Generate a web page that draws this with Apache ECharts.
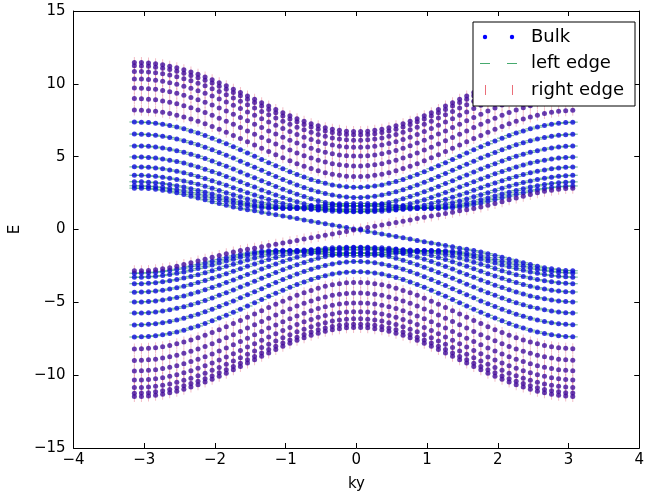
<!DOCTYPE html>
<html>
<head>
<meta charset="utf-8">
<script src="https://cdn.jsdelivr.net/npm/echarts@6/dist/echarts.min.js"></script>
<style>
  html, body { margin: 0; padding: 0; background: #ffffff; }
  #chart { width: 647px; height: 497px; }
</style>
</head>
<body>
<div id="chart"></div>
<script>
// ky sample points across the Brillouin zone
const kyValues = [-3.14,-3.04,-2.94,-2.84,-2.74,-2.64,-2.54,-2.44,-2.34,-2.24,-2.14,-2.04,-1.94,-1.84,-1.74,-1.64,-1.54,-1.44,-1.34,-1.24,-1.14,-1.04,-0.94,-0.84,-0.74,-0.64,-0.54,-0.44,-0.34,-0.24,-0.14,-0.04,
  0.06,0.16,0.26,0.36,0.46,0.56,0.66,0.76,0.86,0.96,1.06,1.16,1.26,1.36,1.46,1.56,1.66,1.76,1.86,1.96,2.06,2.16,2.26,2.36,2.46,2.56,2.66,2.76,2.86,2.96,3.06];

// Positive energies of each level, listed for |ky| = 0.05, 0.15, ... , pi.
// The spectrum is symmetric in ky and in E, so each list also gives -E and -ky.
const edgeBand = [0.04,0.13,0.22,0.31,0.40,0.48,0.57,0.66,0.75,0.84,0.92,1.01,1.10,1.19,1.28,1.36,1.45,1.55,1.66,1.78,1.91,2.04,2.17,2.29,2.41,2.52,2.62,2.70,2.76,2.81,2.83,2.84];
const level01 = [1.79,1.78,1.76,1.73,1.69,1.65,1.60,1.55,1.51,1.47,1.45,1.45,1.46,1.50,1.55,1.63,1.72,1.82,1.94,2.06,2.18,2.30,2.42,2.53,2.64,2.73,2.81,2.88,2.93,2.97,2.99,3.00];
const level02 = [1.62,1.62,1.60,1.58,1.55,1.52,1.49,1.47,1.45,1.45,1.46,1.49,1.54,1.61,1.69,1.80,1.91,2.04,2.16,2.30,2.43,2.56,2.68,2.80,2.91,3.00,3.09,3.16,3.21,3.25,3.27,3.28];
const level03 = [1.40,1.39,1.39,1.38,1.38,1.38,1.39,1.41,1.44,1.48,1.55,1.63,1.73,1.84,1.96,2.10,2.24,2.39,2.53,2.68,2.83,2.97,3.10,3.22,3.33,3.44,3.52,3.59,3.65,3.69,3.72,3.72];
const level04 = [1.21,1.22,1.23,1.26,1.29,1.34,1.40,1.47,1.56,1.67,1.79,1.92,2.06,2.21,2.37,2.53,2.70,2.87,3.03,3.19,3.35,3.50,3.64,3.77,3.89,4.00,4.09,4.17,4.23,4.27,4.29,4.30];
const level05 = [1.25,1.27,1.31,1.37,1.44,1.53,1.64,1.76,1.90,2.04,2.20,2.37,2.54,2.72,2.91,3.09,3.28,3.46,3.64,3.82,3.98,4.14,4.29,4.43,4.56,4.67,4.76,4.84,4.90,4.95,4.97,4.98];
const level06 = [1.61,1.64,1.69,1.76,1.86,1.98,2.11,2.26,2.42,2.59,2.77,2.96,3.15,3.35,3.55,3.75,3.95,4.15,4.34,4.52,4.70,4.87,5.03,5.17,5.30,5.41,5.51,5.60,5.66,5.71,5.73,5.74];
const level07 = [2.20,2.23,2.28,2.36,2.47,2.59,2.73,2.89,3.06,3.25,3.44,3.64,3.85,4.06,4.27,4.48,4.69,4.90,5.10,5.29,5.47,5.65,5.81,5.96,6.09,6.21,6.32,6.40,6.47,6.51,6.54,6.55];
const level08 = [2.90,2.93,2.98,3.06,3.17,3.29,3.44,3.60,3.78,3.97,4.17,4.38,4.59,4.81,5.03,5.25,5.47,5.68,5.89,6.08,6.27,6.45,6.62,6.77,6.91,7.03,7.14,7.23,7.29,7.34,7.37,7.38];
const level09 = [3.63,3.66,3.72,3.80,3.90,4.03,4.18,4.34,4.52,4.72,4.92,5.13,5.35,5.57,5.80,6.02,6.25,6.46,6.67,6.88,7.07,7.26,7.43,7.58,7.73,7.85,7.96,8.05,8.12,8.16,8.19,8.20];
const level10 = [4.36,4.39,4.44,4.52,4.63,4.76,4.90,5.07,5.25,5.45,5.65,5.87,6.09,6.32,6.54,6.77,7.00,7.22,7.43,7.64,7.84,8.03,8.20,8.36,8.50,8.63,8.74,8.83,8.90,8.95,8.98,8.99];
const level11 = [5.04,5.07,5.12,5.20,5.30,5.43,5.58,5.75,5.93,6.13,6.33,6.55,6.77,7.00,7.23,7.46,7.69,7.92,8.13,8.34,8.55,8.73,8.91,9.07,9.22,9.35,9.46,9.55,9.62,9.67,9.70,9.71];
const level12 = [5.64,5.67,5.72,5.80,5.90,6.03,6.18,6.34,6.53,6.72,6.93,7.15,7.38,7.61,7.84,8.07,8.30,8.53,8.75,8.96,9.16,9.35,9.53,9.70,9.84,9.97,10.08,10.18,10.25,10.30,10.33,10.34];
const level13 = [6.13,6.16,6.21,6.29,6.40,6.52,6.67,6.84,7.02,7.22,7.43,7.65,7.87,8.10,8.34,8.57,8.80,9.03,9.25,9.47,9.67,9.86,10.04,10.21,10.35,10.48,10.60,10.69,10.76,10.81,10.84,10.85];
const level14 = [6.50,6.53,6.58,6.66,6.76,6.89,7.04,7.20,7.39,7.59,7.80,8.01,8.24,8.47,8.71,8.94,9.18,9.40,9.63,9.84,10.05,10.24,10.42,10.58,10.73,10.87,10.98,11.07,11.14,11.20,11.23,11.24];
const level15 = [6.73,6.75,6.81,6.89,6.99,7.12,7.26,7.43,7.61,7.81,8.02,8.24,8.47,8.70,8.94,9.17,9.40,9.63,9.86,10.07,10.28,10.47,10.65,10.82,10.97,11.10,11.21,11.31,11.38,11.43,11.46,11.47];

// levels next to the gap carry the left-edge mark, the outer ones the right-edge mark
const innerLevels = [level01, level02, level03, level04, level05, level06, level07, level08];
const outerLevels = [level09, level10, level11, level12, level13, level14, level15];

const xTickValues = [-4, -3, -2, -1, 0, 1, 2, 3, 4];
const yTickValues = [-15, -10, -5, 0, 5, 10, 15];

const BLUE_DOT = '#0a0ad8';
const PURPLE_DOT = '#420e9c';
const GREEN_MARK = 'rgba(40,150,90,0.75)';
const RED_MARK = 'rgba(225,90,115,0.5)';
const FONT = 'DejaVu Sans';

const bulkPts = [];
const leftPts = [];
const rightPts = [];

// column i of kyValues -> index in the |ky| lists
function levelIndex(i) { return i <= 31 ? 31 - i : i - 32; }

function pushPoint(k, v, tag) {
  bulkPts.push({ value: [k, v], itemStyle: { color: tag === 'left' ? BLUE_DOT : PURPLE_DOT } });
  (tag === 'left' ? leftPts : rightPts).push([k, v]);
}

function addLevel(level, tag) {
  kyValues.forEach((k, i) => {
    const e = level[levelIndex(i)];
    pushPoint(k, e, tag);
    pushPoint(k, -e, tag);
  });
}

innerLevels.forEach(l => addLevel(l, 'left'));
outerLevels.forEach(l => addLevel(l, 'right'));

// in-gap edge branches: E>0 for ky<0 sits on the left edge, E>0 for ky>0 on the right edge
kyValues.forEach((k, i) => {
  const e = edgeBand[levelIndex(i)];
  pushPoint(k, e, i <= 31 ? 'left' : 'right');
  pushPoint(k, -e, i <= 31 ? 'right' : 'left');
});

function fmt(v) { return v < 0 ? '\u2212' + Math.abs(v) : String(v); }

const axisCommon = {
  axisLine: { show: true, onZero: false, lineStyle: { color: '#000', width: 1 } },
  axisTick: { show: true, inside: true, length: 5, lineStyle: { color: '#000', width: 1 } },
  splitLine: { show: false }
};

const chart = echarts.init(document.getElementById('chart'), null, { renderer: 'canvas' });

const legendFont = '18px "DejaVu Sans"';
const L = { z: 100, zlevel: 1 };

chart.setOption({
  animation: false,
  backgroundColor: '#ffffff',
  grid: { left: 68, right: 4, top: 11, bottom: 43, containLabel: false },
  xAxis: [
    Object.assign({
      type: 'value', min: xTickValues[0], max: xTickValues[xTickValues.length - 1], interval: 1,
      name: 'ky', nameLocation: 'middle', nameGap: 29,
      nameTextStyle: { fontFamily: FONT, fontSize: 15, color: '#000' },
      axisLabel: { show: true, margin: 5, fontFamily: FONT, fontSize: 15, color: '#000', formatter: fmt }
    }, axisCommon),
    Object.assign({
      type: 'value', position: 'top', min: -4, max: 4, interval: 1,
      axisLabel: { show: false }
    }, axisCommon)
  ],
  yAxis: [
    Object.assign({
      type: 'value', min: yTickValues[0], max: yTickValues[yTickValues.length - 1], interval: 5,
      name: 'E', nameLocation: 'middle', nameGap: 47,
      nameTextStyle: { fontFamily: FONT, fontSize: 15, color: '#000' },
      axisLabel: { show: true, margin: 8, fontFamily: FONT, fontSize: 15, color: '#000', formatter: fmt }
    }, axisCommon),
    Object.assign({
      type: 'value', position: 'right', min: -15, max: 15, interval: 5,
      axisLabel: { show: false }
    }, axisCommon)
  ],
  series: [
    {
      name: 'left edge', type: 'scatter', data: leftPts, z: 2, progressive: 0,
      symbol: 'rect', symbolSize: [10, 1.2],
      itemStyle: { color: GREEN_MARK }
    },
    {
      name: 'right edge', type: 'scatter', data: rightPts, z: 2, progressive: 0,
      symbol: 'rect', symbolSize: [1, 11],
      itemStyle: { color: RED_MARK }
    },
    {
      name: 'Bulk', type: 'scatter', data: bulkPts, z: 3, progressive: 0,
      symbol: 'circle', symbolSize: 5,
      itemStyle: { color: BLUE_DOT }
    }
  ],
  graphic: {
    elements: [
      Object.assign({ type: 'rect', shape: { x: 473, y: 22, width: 162, height: 84 },
        style: { fill: '#fff', stroke: '#000', lineWidth: 1 } }, L),
      Object.assign({ type: 'circle', shape: { cx: 485, cy: 37, r: 2.2 }, style: { fill: '#0000ff' } }, L),
      Object.assign({ type: 'circle', shape: { cx: 512, cy: 37, r: 2.2 }, style: { fill: '#0000ff' } }, L),
      Object.assign({ type: 'text', style: { x: 531, y: 37, text: 'Bulk', font: legendFont, fill: '#000', verticalAlign: 'middle' } }, L),
      Object.assign({ type: 'rect', shape: { x: 480, y: 63, width: 10, height: 1 }, style: { fill: 'rgb(70,170,110)' } }, L),
      Object.assign({ type: 'rect', shape: { x: 507, y: 63, width: 10, height: 1 }, style: { fill: 'rgb(70,170,110)' } }, L),
      Object.assign({ type: 'text', style: { x: 531, y: 63, text: 'left edge', font: legendFont, fill: '#000', verticalAlign: 'middle' } }, L),
      Object.assign({ type: 'rect', shape: { x: 485, y: 85, width: 1, height: 10 }, style: { fill: 'rgb(235,110,120)' } }, L),
      Object.assign({ type: 'rect', shape: { x: 512, y: 85, width: 1, height: 10 }, style: { fill: 'rgb(235,110,120)' } }, L),
      Object.assign({ type: 'text', style: { x: 531, y: 90, text: 'right edge', font: legendFont, fill: '#000', verticalAlign: 'middle' } }, L)
    ]
  }
});
</script>
</body>
</html>
